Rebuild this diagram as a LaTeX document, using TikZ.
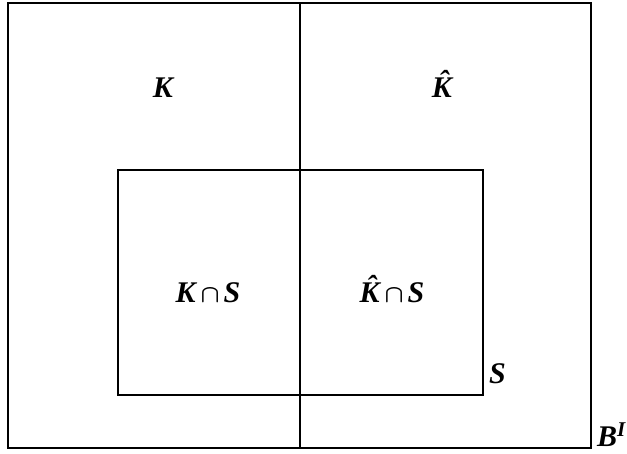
\documentclass[tikz,border=0pt]{standalone}
\usepackage{amsmath}
\usepackage{fontspec}
\setmainfont{Liberation Serif}
\newcommand{\Khat}{\accent"02C6 K}
\newcommand{\capsym}{\hspace{5pt}{\fontsize{24}{24}\selectfont$\boldsymbol{\cap}$}\hspace{4pt}}
\begin{document}
\begin{tikzpicture}[x=1pt,y=-1pt,
  frame/.style={draw=black,line width=1.4pt},
  lbl/.style={font=\fontsize{30}{33}\selectfont\bfseries\itshape,inner sep=0pt,anchor=base}]
\useasboundingbox (0,0) rectangle (627,453);
\coordinate (otl) at (8,3);
\coordinate (obr) at (591,448);
\coordinate (vt) at (300,3);
\coordinate (vb) at (300,448);
\coordinate (itl) at (118,170);
\coordinate (ibr) at (483,395);
\draw[frame] (otl) rectangle (obr);
\draw[frame] (itl) rectangle (ibr);
\draw[frame] (vt) -- (vb);
\node[lbl] (k) at (163,97) {K};
\node[lbl] (kh) at (442,97) {\Khat};
\node[lbl] (ks) at (208,302) {K\capsym S};
\node[lbl] (khs) at (392,302) {\Khat\capsym S};
\node[lbl,anchor=base west] (s) at (489,383) {S};
\node[lbl,anchor=base west] (b) at (597,446) {B\textsuperscript{I}};
\end{tikzpicture}
\end{document}
